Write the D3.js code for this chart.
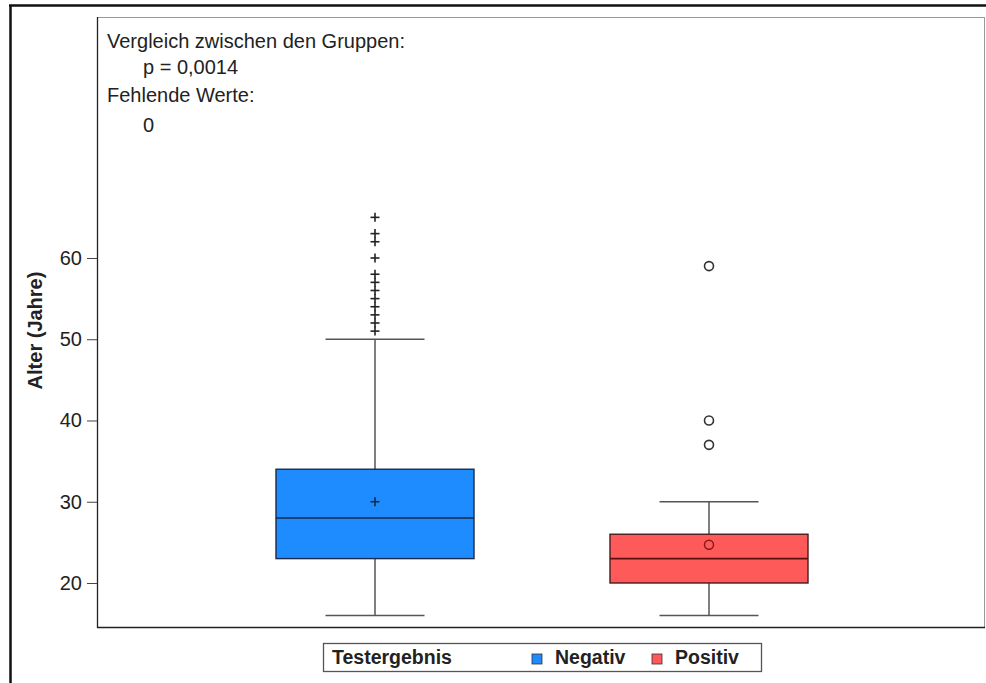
<!DOCTYPE html>
<html>
<head>
<meta charset="utf-8">
<script src="https://cdn.jsdelivr.net/npm/d3@7"></script>
<style>
  body { margin: 0; background: #fff; }
  text { font-family: Arial, "Liberation Sans", sans-serif; fill: #222; }
</style>
</head>
<body>
<svg id="chart" width="986" height="683"></svg>
<script>
// groups and their summary stats
var groups = ["Negativ", "Positiv"];
var colors = ["#1E8CFF", "#FF5A5A"];
var q1 = [23, 20];
var median = [28, 23];
var q3 = [34, 26];
var mean = [30, 24.7];
var whiskerLow = [16, 16];
var whiskerHigh = [50, 30];
var outliersNeg = [51, 52, 53, 54, 55, 56, 57, 58, 60, 62, 63, 65];
var outliersPos = [37, 40, 59];
var yTicks = [20, 30, 40, 50, 60];
var infoLines = ["Vergleich zwischen den Gruppen:", "p = 0,0014", "Fehlende Werte:", "0"];

var svg = d3.select("#chart"),
    margin = {top: 17, right: 1, bottom: 55, left: 97},
    width = +svg.attr("width") - margin.left - margin.right,
    height = +svg.attr("height") - margin.top - margin.bottom;

// outer frame
svg.append("line").attr("x1", 9).attr("x2", 986).attr("y1", 5.5).attr("y2", 5.5)
    .attr("stroke", "#111").attr("stroke-width", 2.5);
svg.append("line").attr("x1", 10.5).attr("x2", 10.5).attr("y1", 5).attr("y2", 683)
    .attr("stroke", "#111").attr("stroke-width", 2.5);

var g = svg.append("g")
    .attr("transform", "translate(" + margin.left + "," + margin.top + ")");

var x = d3.scalePoint()
    .domain(groups)
    .range([278, 612]);
var boxW = 198;

var y = d3.scaleLinear()
    .domain([14.46, 89.66])
    .range([height, 0]);

// plot frame: top/right lighter
g.append("line").attr("x1", 0).attr("x2", width).attr("y1", 0.5).attr("y2", 0.5).attr("stroke", "#999");
g.append("line").attr("x1", width - 0.5).attr("x2", width - 0.5).attr("y1", 0).attr("y2", height).attr("stroke", "#999");

function plus(sel, cx, cy, col) {
    sel.append("line").attr("x1", cx - 4.5).attr("x2", cx + 4.5).attr("y1", cy).attr("y2", cy)
        .attr("stroke", col).attr("stroke-width", 1.6);
    sel.append("line").attr("x1", cx).attr("x2", cx).attr("y1", cy - 4.5).attr("y2", cy + 4.5)
        .attr("stroke", col).attr("stroke-width", 1.6);
}

groups.forEach(function(name, i) {
    var cx = x(name);
    var grp = g.append("g");
    // whiskers
    grp.append("line").attr("x1", cx).attr("x2", cx)
        .attr("y1", y(whiskerLow[i])).attr("y2", y(q1[i]))
        .attr("stroke", "#555").attr("stroke-width", 1.5);
    grp.append("line").attr("x1", cx).attr("x2", cx)
        .attr("y1", y(q3[i])).attr("y2", y(whiskerHigh[i]))
        .attr("stroke", "#555").attr("stroke-width", 1.5);
    [whiskerLow[i], whiskerHigh[i]].forEach(function(v) {
        grp.append("line").attr("x1", cx - boxW / 4).attr("x2", cx + boxW / 4)
            .attr("y1", y(v)).attr("y2", y(v))
            .attr("stroke", "#555").attr("stroke-width", 1.5);
    });
    // box
    grp.append("rect")
        .attr("x", cx - boxW / 2).attr("width", boxW)
        .attr("y", y(q3[i])).attr("height", y(q1[i]) - y(q3[i]))
        .attr("fill", colors[i])
        .attr("stroke", i === 0 ? "#1a2a4a" : "#4a1a1a").attr("stroke-width", 1.4);
    grp.append("line").attr("x1", cx - boxW / 2).attr("x2", cx + boxW / 2)
        .attr("y1", y(median[i])).attr("y2", y(median[i]))
        .attr("stroke", i === 0 ? "#1a2a4a" : "#5a1010").attr("stroke-width", 1.6);
});

// mean markers
plus(g, x("Negativ"), y(mean[0]), "#1a2a4a");
g.append("circle").attr("cx", x("Positiv")).attr("cy", y(mean[1])).attr("r", 4.5)
    .attr("fill", "none").attr("stroke", "#8a1a1a").attr("stroke-width", 1.5);

// outliers
outliersNeg.forEach(function(v) { plus(g, x("Negativ"), y(v), "#222"); });
g.selectAll(".outPos")
    .data(outliersPos)
    .enter().append("circle")
    .attr("class", "outPos")
    .attr("cx", x("Positiv"))
    .attr("cy", function(d) { return y(d); })
    .attr("r", 4.5)
    .attr("fill", "none")
    .attr("stroke", "#333")
    .attr("stroke-width", 1.6);

// axes frame (left + bottom dark)
g.append("line").attr("x1", 0.5).attr("x2", 0.5).attr("y1", 0).attr("y2", height).attr("stroke", "#222").attr("stroke-width", 1.3);
g.append("line").attr("x1", 0).attr("x2", width).attr("y1", height - 0.5).attr("y2", height - 0.5).attr("stroke", "#222").attr("stroke-width", 1.5);

var yAxis = g.append("g")
    .call(d3.axisLeft(y).tickValues(yTicks).tickSize(10).tickPadding(5));
yAxis.select(".domain").remove();
yAxis.selectAll("line").attr("stroke", "#444");
yAxis.selectAll("text").style("font-size", "20px").style("font-family", "Arial, 'Liberation Sans', sans-serif").attr("fill", "#222");

// axis title, centred on the plot height
svg.append("text")
    .attr("transform", "translate(42," + (margin.top + height / 2 + 8) + ") rotate(-90)")
    .attr("text-anchor", "middle")
    .style("font-size", "20px")
    .style("font-weight", "bold")
    .text("Alter (Jahre)");

// info text
var infoX = [107, 143, 107, 143];
var infoY = [48, 74, 102, 132];
infoLines.forEach(function(t, i) {
    svg.append("text")
        .attr("x", infoX[i]).attr("y", infoY[i])
        .style("font-size", "20px")
        .text(t);
});

// legend
var leg = svg.append("g");
leg.append("rect").attr("x", 323.5).attr("y", 643.5).attr("width", 438).attr("height", 28)
    .attr("fill", "#fff").attr("stroke", "#555").attr("stroke-width", 1.3);
leg.append("text").attr("x", 332).attr("y", 664).style("font-size", "19.5px").style("font-weight", "bold").text("Testergebnis");
var legX = [532, 652];
groups.forEach(function(name, i) {
    leg.append("rect").attr("x", legX[i]).attr("y", 654).attr("width", 10).attr("height", 10)
        .attr("fill", colors[i]).attr("stroke", "#333").attr("stroke-width", 0.8);
    leg.append("text").attr("x", legX[i] + 23).attr("y", 664)
        .style("font-size", "19.5px").style("font-weight", "bold").text(name);
});
</script>
</body>
</html>
